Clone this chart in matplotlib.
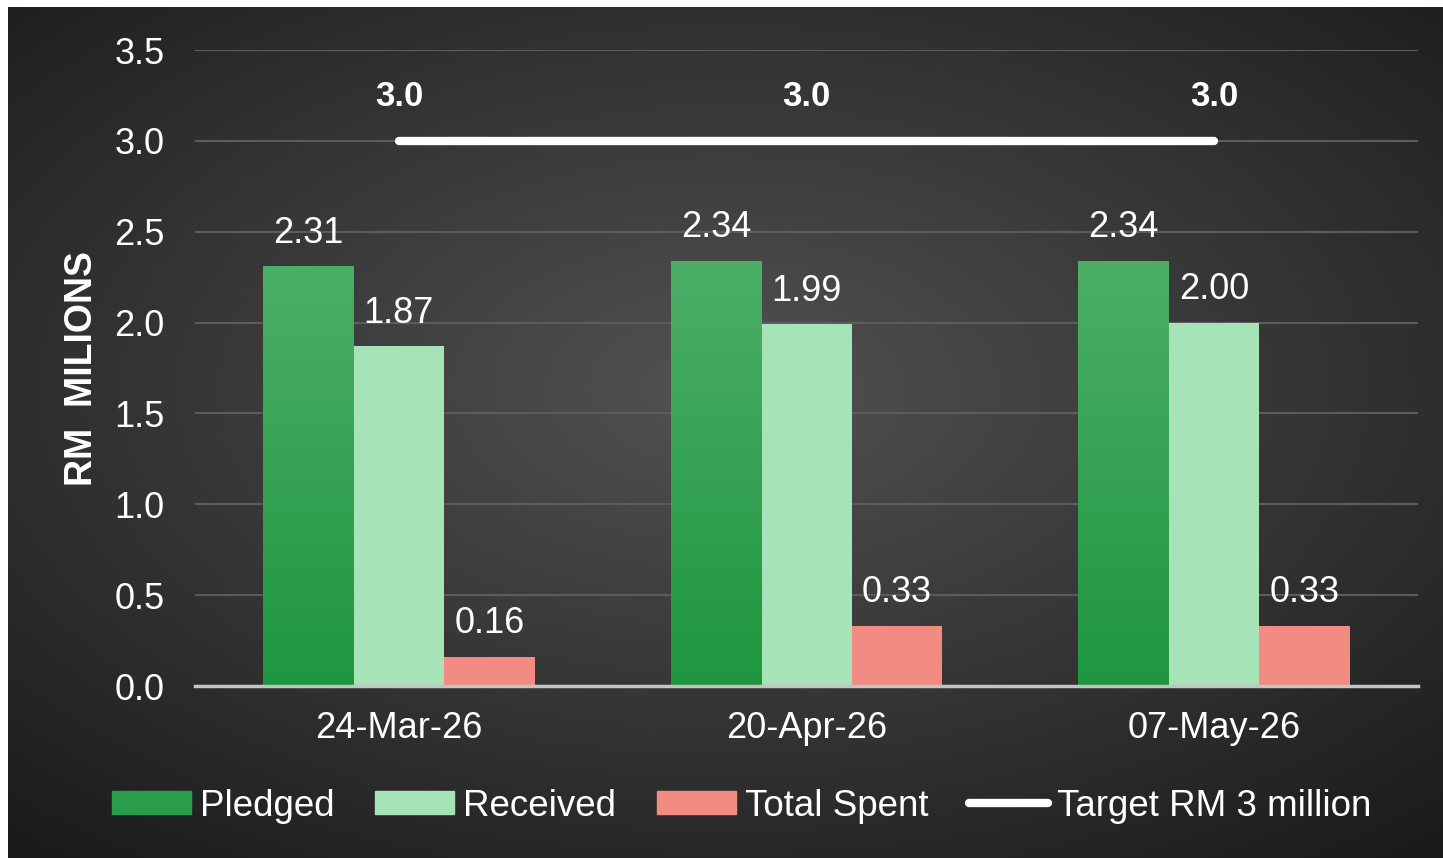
import numpy as np
import matplotlib.pyplot as plt
from matplotlib.colors import LinearSegmentedColormap
from matplotlib.lines import Line2D
from matplotlib.patches import Patch

dates = ['24-Mar-26', '20-Apr-26', '07-May-26']
pledged = [2.31, 2.34, 2.34]
received = [1.87, 1.99, 2.00]
spent = [0.16, 0.33, 0.33]
target = [3.0, 3.0, 3.0]

plt.rcParams['font.family'] = ['Liberation Sans', 'DejaVu Sans']

W, H = 1443, 858
fig = plt.figure(figsize=(W / 100, H / 100), dpi=100)
fig.patch.set_facecolor('white')

# dark radial background, thin white strip on top and left
bg = fig.add_axes([8 / W, 0, 1 - 8 / W, 1 - 7 / H])
bg.axis('off')
yy, xx = np.mgrid[-1:1:400j, -1:1:700j]
r = np.sqrt((xx * 0.95) ** 2 + (yy + 0.1) ** 2)
shade = np.clip(1 - r / 1.45, 0, 1)
bg_cmap = LinearSegmentedColormap.from_list('bg', ['#1a1a1a', '#525252'])
bg.imshow(shade, cmap=bg_cmap, aspect='auto', extent=[0, 1, 0, 1])

ax = fig.add_axes([195 / W, 172 / H, 1223 / W, 636 / H])
ax.set_facecolor('none')

x = np.arange(len(dates))
w = 0.222
b1 = ax.bar(x - w, pledged, w, color='#2a9d4b', zorder=3)
b2 = ax.bar(x, received, w, color='#a6e3b7', zorder=3)
b3 = ax.bar(x + w, spent, w, color='#f28b82', zorder=3)

# vertical gradient on the pledged bars
green = LinearSegmentedColormap.from_list('g', ['#1e963f', '#4caf67'])
grad = np.linspace(0, 1, 256).reshape(-1, 1)
for rect in b1:
    x0, h = rect.get_x(), rect.get_height()
    im = ax.imshow(grad, cmap=green, origin='lower', aspect='auto',
                   extent=[x0, x0 + rect.get_width(), 0, h], zorder=3.5)
    im.set_clip_path(rect)

for bars in (b1, b2, b3):
    for rect in bars:
        h = rect.get_height()
        ax.annotate(f'{h:.2f}', (rect.get_x() + rect.get_width() / 2, h),
                    xytext=(0, 17), textcoords='offset points',
                    ha='center', va='baseline', color='white', fontsize=26)

ax.plot(x, target, color='white', lw=6, solid_capstyle='round', zorder=4)
for xi, t in zip(x, target):
    ax.annotate(f'{t:.1f}', (xi, t), xytext=(0, 25), textcoords='offset points',
                ha='center', va='baseline', color='white', fontsize=25,
                fontweight='bold')

ax.set_xlim(-0.5, 2.5)
ax.set_ylim(0, 3.5)
ax.set_xticks(x)
ax.set_xticklabels(dates)
ax.set_yticks(np.arange(0, 3.51, 0.5))
ax.set_yticklabels([f'{v:.1f}' for v in np.arange(0, 3.51, 0.5)])
ax.yaxis.grid(True, color='#5c5c5c', lw=1.5, zorder=0)
ax.set_axisbelow(True)
for s in ['top', 'right', 'left']:
    ax.spines[s].set_visible(False)
ax.spines['bottom'].set_color('#c4c4c4')
ax.spines['bottom'].set_linewidth(2.5)
ax.spines['bottom'].set_zorder(5)
ax.tick_params(axis='y', length=0, pad=22, labelsize=26, labelcolor='white')
ax.tick_params(axis='x', length=0, pad=18, labelsize=26, labelcolor='white')

fig.text(82 / W, (H - 368) / H, 'RM  MILIONS', rotation=90, ha='center',
         va='center', color='white', fontsize=27, fontweight='bold')

handles = [Patch(color='#2a9d4b'), Patch(color='#a6e3b7'), Patch(color='#f28b82'),
           Line2D([], [], color='white', lw=6, solid_capstyle='round')]
labels = ['Pledged', 'Received', 'Total Spent', 'Target RM 3 million']
fig.legend(handles, labels, loc='center', bbox_to_anchor=(0.514, 52 / H), ncol=4,
           frameon=False, fontsize=26.5, handlelength=2.15, handleheight=0.6,
           handletextpad=0.25, columnspacing=1.1, labelcolor='white')

fig.savefig('out.png', dpi=100)
